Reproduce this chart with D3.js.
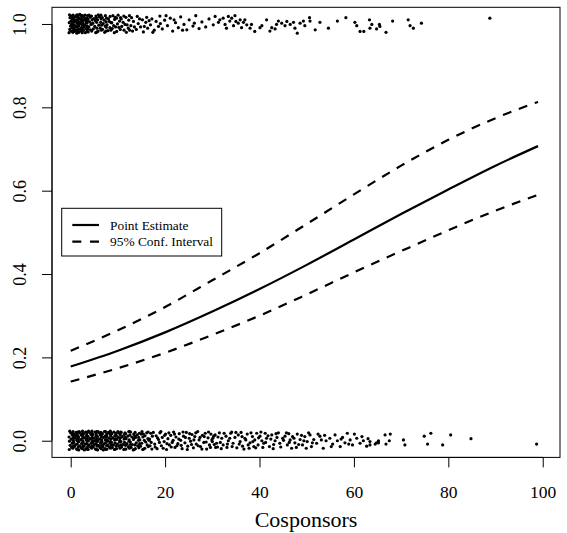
<!DOCTYPE html>
<html lang="en">
<head>
<meta charset="utf-8">
<title>Cosponsors</title>
<script src="https://d3js.org/d3.v7.min.js"></script>
<style>
  body { margin: 0; background: #fff; }
  svg text { font-family: "Liberation Serif", "Times New Roman", serif; fill: #000; }
</style>
</head>
<body>
<div id="stage"></div>
<script>
// predicted probability curves
var curveX   = [0, 10, 20, 30, 40, 50, 60, 70, 80, 90, 99];
var pointEst = [0.178, 0.216, 0.260, 0.310, 0.364, 0.422, 0.483, 0.544, 0.603, 0.660, 0.707];
var upperCI  = [0.216, 0.265, 0.321, 0.385, 0.450, 0.520, 0.591, 0.660, 0.722, 0.774, 0.813];
var lowerCI  = [0.142, 0.174, 0.211, 0.254, 0.300, 0.351, 0.404, 0.455, 0.505, 0.552, 0.590];

var xTicks = [0, 20, 40, 60, 80, 100];
var yTicks = [0, 0.2, 0.4, 0.6, 0.8, 1];
var yTickLabels = ["0.0", "0.2", "0.4", "0.6", "0.8", "1.0"];
var xTitle = "Cosponsors";
var legendLabels = ["Point Estimate", "95% Conf. Interval"];

// jittered observations, outcome = 1
var passedPts = [
  [-0.35,0.979],[0.1,0.983],[-0.2,0.987],[0.3,0.991],[-0.05,0.995],[0.2,0.999],[-0.3,1.003],[0.05,1.007],[0.35,1.011],[-0.15,1.015],[0.15,1.019],[-0.25,1.022],
  [1.3,0.978],[0.8,0.982],[1.15,0.986],[0.7,0.990],[1.05,0.994],[0.75,0.998],[1.35,1.002],[0.9,1.006],[1.2,1.010],[0.65,1.014],[1.0,1.018],[1.25,1.021],
  [1.75,0.980],[2.2,0.984],[1.9,0.988],[2.35,0.992],[1.7,0.996],[2.1,1.000],[1.85,1.004],[2.3,1.008],[2.0,1.012],[1.65,1.016],[2.25,1.020],[1.95,1.023],
  [3.1,0.979],[2.7,0.985],[3.25,0.989],[2.85,0.993],[3.0,0.997],[2.65,1.001],[3.3,1.005],[2.9,1.009],[3.15,1.013],[2.75,1.017],[3.05,1.021],
  [0.45,0.980],[0.6,0.986],[0.4,0.992],[0.55,0.998],[0.5,1.004],[0.6,1.010],[0.4,1.016],[0.5,1.021],
  [1.45,0.981],[1.6,0.987],[1.4,0.993],[1.55,0.999],[1.5,1.005],[1.6,1.011],[1.4,1.017],[1.5,1.022],
  [2.45,0.979],[2.6,0.985],[2.4,0.991],[2.55,0.997],[2.5,1.003],[2.6,1.009],[2.4,1.015],[2.5,1.020],
  [3.45,0.982],[3.6,0.988],[3.4,1.002],[3.55,1.008],[3.45,1.014],[3.6,1.020],
  [3.7,0.981],[4.2,0.986],[3.85,0.993],[4.3,0.999],[4.0,1.005],[3.65,1.011],[4.15,1.016],[3.9,1.021],
  [5.3,0.979],[4.8,0.988],[5.1,0.994],[4.7,1.002],[5.25,1.008],[4.9,1.013],[5.35,1.019],
  [5.8,0.983],[6.25,0.990],[5.95,0.997],[6.35,1.004],[5.7,1.010],[6.1,1.017],[5.85,1.022],
  [7.2,0.980],[6.75,0.987],[7.3,0.995],[6.9,1.001],[7.1,1.009],[6.7,1.015],[7.35,1.020],
  [7.85,0.984],[8.3,0.991],[7.7,0.998],[8.15,1.006],[8.0,1.012],[8.35,1.018],
  [9.25,0.979],[8.8,0.989],[9.1,0.996],[8.7,1.003],[9.3,1.011],[8.95,1.020],
  [9.75,0.982],[10.2,0.992],[9.9,1.000],[10.35,1.007],[9.7,1.014],[10.05,1.021],
  [11.3,0.985],[10.8,0.994],[11.1,1.004],[10.7,1.012],[11.25,1.019],
  [11.8,0.980],[12.2,0.990],[11.95,0.998],[12.3,1.009],[11.7,1.016],
  [13.1,0.983],[12.75,0.996],[13.3,1.006],[12.9,1.015],
  [3.5,0.995],[4.5,1.000],[4.45,0.983],[5.5,1.004],[5.55,0.990],[6.5,0.985],[6.45,1.012],[7.5,1.005],
  [7.55,0.992],[8.5,0.985],[8.55,1.003],[9.5,0.993],[9.45,1.016],[10.5,0.987],[10.55,1.015],[11.5,0.999],
  [12.5,0.985],[12.45,1.020],[13.5,0.993],
  [4.55,1.010],[4.4,1.019],[5.6,0.981],[5.45,1.015],[6.55,0.997],[6.4,1.021],[7.45,0.983],[7.6,1.014],
  [13.9,0.987],[14.3,1.001],[14.1,1.018],[14.8,0.993],[15.2,1.010],[15.4,0.981],[15.9,1.004],[16.3,0.990],
  [16.1,1.016],[16.9,0.998],[17.2,1.012],[17.7,0.985],[18.1,1.006],[18.6,0.994],[18.9,1.019],
  [14.6,1.012],[15.6,0.994],[16.6,1.008],[17.4,0.980],[19.0,1.001],[20.2,1.020],[21.9,1.010],[23.7,0.985],[26.2,1.002],
  [19.4,0.988],[19.9,1.009],[20.5,0.996],[21.1,1.014],[21.6,0.983],[22.2,1.003],[22.8,0.991],[23.3,1.017],
  [24.0,0.999],[24.6,0.986],[25.1,1.010],[25.9,0.995],[26.5,1.020],[27.2,0.989],[27.8,1.005],[28.6,0.993],[29.3,1.012],
  [30.6,1.018],[30.2,0.998],[31.3,1.004],[31.6,1.010],[32.3,1.014],[32.7,0.999],[33.0,0.990],[33.4,1.018],
  [33.7,1.007],[34.1,1.014],[34.5,0.996],[34.8,1.020],[35.0,1.006],[35.5,1.002],[35.9,1.010],[36.2,0.991],
  [36.6,1.004],[36.9,1.010],[37.3,0.998],[38.0,0.990],[38.3,0.999],[39.0,0.982],[40.1,0.991],[40.5,0.996],
  [41.5,1.010],[42.2,0.983],[42.6,0.991],[43.3,0.988],[43.6,0.999],[44.0,1.007],[44.7,1.002],[45.4,0.996],
  [45.8,1.006],[46.5,0.999],[47.2,1.004],[47.5,0.990],[48.0,0.978],[48.6,1.002],[49.3,1.007],[49.6,0.996],
  [50.6,1.015],[50.7,1.007],[51.8,0.986],[52.8,1.004],[54.6,0.990],[56.5,1.007],[58.3,1.015],[60.2,1.004],
  [60.6,0.996],[61.3,0.982],[62.1,0.982],[63.3,1.010],[63.4,0.990],[63.8,0.999],
  [64.8,0.988],[65.4,0.999],[65.5,0.994],[66.8,0.980],[68.2,1.007],[71.5,1.010],[71.9,0.996],[72.6,0.990],
  [74.3,1.002],[88.8,1.014]
];

// jittered observations, outcome = 0
var failedPts = [
  [-0.3,-0.021],[0.2,-0.016],[-0.1,-0.011],[0.35,-0.006],[-0.25,-0.001],[0.1,0.004],[-0.35,0.009],[0.3,0.014],[0,0.019],[-0.2,0.023],
  [1.25,-0.020],[0.8,-0.014],[1.05,-0.009],[0.65,-0.004],[1.3,0.001],[0.95,0.006],[1.35,0.011],[0.7,0.016],[1.15,0.020],[0.9,0.013],
  [1.7,-0.022],[2.2,-0.017],[1.9,-0.012],[2.35,-0.007],[1.75,-0.002],[2.1,0.003],[1.65,0.008],[2.3,0.013],[2.0,0.018],[1.8,0.022],
  [3.25,-0.019],[2.8,-0.013],[3.05,-0.008],[2.65,-0.003],[3.3,0.002],[2.95,0.007],[3.35,0.012],[2.7,0.017],[3.15,0.021],[2.9,-0.022],
  [3.7,-0.021],[4.2,-0.015],[3.9,-0.010],[4.35,-0.005],[3.75,0.000],[4.1,0.005],[3.65,0.010],[4.3,0.015],[4.0,0.020],[3.8,0.023],
  [5.25,-0.020],[4.8,-0.015],[5.05,-0.009],[4.65,-0.004],[5.3,0.001],[4.95,0.006],[5.35,0.011],[4.7,0.016],[5.15,0.021],[4.9,-0.001],
  [5.7,-0.022],[6.2,-0.016],[5.9,-0.011],[6.35,-0.006],[5.75,-0.001],[6.1,0.004],[5.65,0.009],[6.3,0.014],[6.0,0.019],[5.8,0.022],
  [7.25,-0.019],[6.8,-0.014],[7.05,-0.008],[6.65,-0.003],[7.3,0.002],[6.95,0.008],[7.35,0.012],[6.7,0.017],[7.15,0.022],[6.9,-0.022],
  [7.7,-0.020],[8.2,-0.015],[7.9,-0.010],[8.35,-0.005],[7.75,0.001],[8.1,0.006],[7.65,0.011],[8.3,0.016],[8.0,0.020],[7.8,-0.001],
  [9.25,-0.021],[8.8,-0.016],[9.05,-0.010],[8.65,-0.004],[9.3,0.002],[8.95,0.007],[9.35,0.012],[8.7,0.017],[9.15,0.021],
  [9.7,-0.019],[10.2,-0.013],[9.9,-0.008],[10.35,-0.003],[9.75,0.003],[10.1,0.008],[9.65,0.013],[10.3,0.018],[10.0,0.022],
  [11.25,-0.021],[10.8,-0.015],[11.05,-0.009],[10.65,-0.002],[11.3,0.004],[10.95,0.010],[11.35,0.015],[10.7,0.020],
  [11.7,-0.020],[12.2,-0.014],[11.9,-0.007],[12.35,-0.001],[11.75,0.005],[12.1,0.011],[11.65,0.017],[12.3,0.022],
  [13.25,-0.022],[12.8,-0.016],[13.05,-0.009],[12.65,-0.003],[13.3,0.003],[12.95,0.009],[13.35,0.016],[12.7,0.021],
  [13.7,-0.019],[14.2,-0.012],[13.9,-0.005],[14.35,0.001],[13.75,0.008],[14.1,0.014],[13.65,0.020],
  [15.25,-0.021],[14.8,-0.013],[15.05,-0.006],[14.65,0.002],[15.3,0.009],[14.95,0.016],[15.1,0.022],
  [15.7,-0.018],[16.2,-0.010],[15.9,-0.003],[16.35,0.005],[15.75,0.012],[16.1,0.019],
  [17.2,-0.020],[16.8,-0.012],[17.05,-0.004],[16.7,0.004],[17.3,0.011],[16.95,0.018],
  [0.45,-0.018],[0.6,-0.012],[0.4,-0.005],[0.55,0.001],[0.5,0.007],[0.6,0.012],[0.4,0.017],[0.5,0.022],
  [1.45,-0.021],[1.6,-0.015],[1.4,-0.008],[1.55,-0.002],[1.5,0.004],[1.6,0.010],[1.4,0.016],[1.5,0.021],
  [2.45,-0.019],[2.6,-0.013],[2.4,-0.006],[2.55,0.000],[2.5,0.006],[2.6,0.011],[2.4,0.017],[2.5,0.023],
  [3.45,-0.020],[3.6,-0.014],[3.4,-0.007],[3.55,-0.001],[3.5,0.005],[3.6,0.010],[3.4,0.016],[3.5,0.021],
  [4.45,-0.018],[4.6,-0.012],[4.4,-0.006],[4.55,0.001],[4.5,0.008],[4.6,0.013],[4.4,0.018],[4.5,0.023],
  [5.45,-0.021],[5.6,-0.013],[5.4,-0.007],[5.55,-0.001],[5.5,0.005],[5.6,0.011],[5.4,0.016],[5.5,0.022],
  [6.45,-0.019],[6.6,-0.011],[6.4,-0.004],[6.55,0.002],[6.5,0.009],[6.6,0.015],[6.4,0.020],
  [7.45,-0.021],[7.6,-0.012],[7.4,-0.005],[7.55,0.003],[7.5,0.010],[7.6,0.016],[7.4,0.022],
  [8.45,-0.018],[8.6,-0.010],[8.4,-0.002],[8.55,0.004],[8.5,0.011],[8.6,0.018],[8.4,0.023],
  [9.45,-0.020],[9.6,-0.012],[9.4,-0.005],[9.55,0.005],[9.5,0.012],[9.6,0.018],
  [10.45,-0.018],[10.6,-0.010],[10.4,0.001],[10.55,0.007],[10.5,0.014],[10.6,0.021],
  [11.45,-0.020],[11.6,-0.011],[11.4,-0.004],[11.55,0.008],[11.5,0.019],
  [12.45,-0.018],[12.6,-0.009],[12.4,0.002],[12.55,0.014],[12.5,0.022],
  [13.45,-0.021],[13.6,-0.010],[13.4,0.006],[13.55,0.012],
  [14.45,-0.017],[14.6,-0.007],[14.4,0.008],[14.55,0.018],
  [15.45,-0.020],[15.6,0.001],[15.4,0.016],
  [16.45,-0.014],[16.6,0.001],[16.4,0.021],
  [17.8,-0.008],[18.1,0.012],[18.3,-0.019],[18.6,0.003],[18.9,0.019],[19.2,-0.012],[19.4,0.008],[19.8,-0.002],
  [20.1,0.016],[20.3,-0.021],[20.6,0.005],[20.9,-0.010],[21.2,0.013],[21.5,-0.004],[21.8,0.021],[22.1,-0.016],
  [22.3,0.009],[22.7,-0.007],[23.0,0.017],[23.3,0.001],[23.6,-0.019],[23.9,0.011],[24.2,-0.005],[24.5,0.020],
  [24.8,-0.013],[25.1,0.006],[25.4,-0.001],[25.7,0.015],[26.0,-0.017],[26.3,0.010],[26.6,-0.008],[26.9,0.022],
  [27.2,0.002],[27.5,-0.014],[27.9,0.013],[28.2,-0.004],[28.5,0.018],[28.8,-0.020],[29.1,0.007],[29.4,-0.010],
  [29.7,0.016],[30.0,-0.002],[30.3,0.011],[30.7,-0.016],
  [17.5,0.020],[17.9,-0.015],[18.4,0.007],[18.8,-0.004],[19.1,0.022],[19.6,-0.018],[19.9,0.013],[20.4,-0.007],
  [20.8,0.019],[21.3,-0.015],[21.7,0.001],[22.0,0.016],[22.5,-0.012],[22.9,0.004],[23.4,-0.011],[23.8,0.021],
  [24.3,0.008],[24.7,-0.021],[25.2,0.017],[25.6,-0.009],[26.1,0.002],[26.5,0.019],[27.0,-0.012],[27.4,0.008],
  [27.8,-0.020],[28.3,0.010],[28.7,-0.003],[29.2,0.021],[29.6,-0.016],[30.1,0.006],
  [29.9,0.002],[30.6,0.014],[30.9,-0.006],[31.5,0.019],[32.0,0.006],[32.3,-0.010],[32.9,0.011],[33.4,0.000],
  [33.9,0.018],[34.4,-0.006],[34.8,0.008],[35.5,0.014],[35.9,-0.002],[36.4,-0.013],[36.9,0.006],[37.4,0.016],
  [38.0,-0.005],[38.5,0.010],[39.0,0.002],[39.4,0.018],[39.7,-0.010],[40.1,0.011],[40.5,0.000],[40.9,-0.006],
  [41.5,0.006],[42.1,-0.014],[42.6,0.014],[43.3,0.000],[44.0,0.019],[44.3,-0.006],[44.9,0.006],[45.4,0.011],
  [45.9,-0.010],[46.5,0.002],[47.0,0.010],[47.5,-0.005],[48.0,0.016],[48.6,0.003],[49.1,-0.010],[49.6,0.010],
  [50.1,-0.002],[50.7,0.014],[51.0,-0.014],[51.5,0.003],[52.1,-0.006],[52.8,0.011],[53.5,-0.018],[54.1,0.000],
  [54.9,0.006],[55.5,-0.008],[56.0,0.014],[56.5,0.000],[57.1,-0.014],[57.6,0.008],[58.1,-0.005],[58.6,0.018],
  [59.2,0.002],[59.7,-0.010],[60.6,0.006],[61.3,-0.006],[62.0,0.000],[62.7,-0.013],[63.4,-0.002],[64.5,-0.008],
  [65.2,-0.005],
  [31.1,-0.015],[31.9,-0.019],[33.1,-0.016],[34.1,0.021],[35.2,-0.017],[36.1,0.020],[37.8,-0.018],[38.8,-0.014],
  [41.2,0.018],[42.9,-0.019],[43.7,0.008],[46.2,0.017],[47.8,-0.016],[49.9,-0.018],
  [30.4,-0.009],[31.2,0.009],[31.7,-0.004],[32.5,0.018],[33.2,-0.008],[33.7,0.006],[34.2,-0.014],[35.0,0.020],
  [35.7,-0.008],[36.3,0.010],[36.7,-0.020],[37.1,0.002],[37.6,-0.010],[38.2,0.019],[38.6,-0.002],[39.2,-0.017],
  [39.8,0.007],[40.3,0.021],[40.7,-0.016],[41.3,-0.004],[41.8,0.012],[42.4,0.004],[43.0,-0.009],[43.5,0.017],
  [44.5,-0.015],[45.1,0.001],[45.7,0.019],[46.3,-0.004],[46.8,-0.018],[47.3,0.006],[48.3,-0.009],[48.9,0.013],
  [49.4,0.000],[50.4,0.019],[51.2,-0.005],[52.4,0.016],[53.1,0.002],[53.8,0.013],[55.2,-0.014],[57.3,0.004],
  [58.9,-0.008],[60.1,0.016],[61.7,0.010],[63.0,0.005],
  [63.4,-0.010],[64.8,-0.005],[65.2,0.000],[66.6,0.014],[66.8,-0.008],[67.7,0.016],[67.5,0.000],[70.5,0.002],
  [70.8,-0.010],[74.9,0.011],[75.6,-0.008],[76.3,0.018],[78.8,-0.010],[80.5,0.014],[84.8,0.005],[98.7,-0.008]
];

var width = 567, height = 533;
var plotLeft = 52, plotRight = 560, plotTop = 7.3, plotBottom = 457.4;

var x = d3.scaleLinear().domain([-3.96, 103.66]).range([plotLeft, plotRight]);
var y = d3.scaleLinear().domain([-0.04, 1.04]).range([plotBottom, plotTop]);

var svg = d3.select("#stage").append("svg")
  .attr("width", width).attr("height", height);

// observations
svg.append("g").selectAll("circle")
  .data(failedPts.concat(passedPts))
  .join("circle")
  .attr("cx", function (d) { return x(d[0]); })
  .attr("cy", function (d) { return y(d[1]); })
  .attr("r", 1.6)
  .attr("fill", "#000");

// curves
var line = d3.line()
  .x(function (d, i) { return x(curveX[i]); })
  .y(function (d) { return y(d); })
  .curve(d3.curveMonotoneX);

svg.append("path").datum(pointEst).attr("d", line)
  .attr("fill", "none").attr("stroke", "#000").attr("stroke-width", 2.2);
[upperCI, lowerCI].forEach(function (s) {
  svg.append("path").datum(s).attr("d", line)
    .attr("fill", "none").attr("stroke", "#000").attr("stroke-width", 2.2)
    .attr("stroke-dasharray", "9,8");
});

// box
svg.append("rect")
  .attr("x", plotLeft).attr("y", plotTop)
  .attr("width", plotRight - plotLeft).attr("height", plotBottom - plotTop)
  .attr("fill", "none").attr("stroke", "#000").attr("stroke-width", 1);

// x axis
var xAxis = svg.append("g").attr("transform", "translate(0," + plotBottom + ")")
  .call(d3.axisBottom(x).tickValues(xTicks).tickSize(10).tickPadding(1));
xAxis.attr("font-family", null);
xAxis.select(".domain").attr("d", "M" + x(0) + ",0H" + x(100));
xAxis.selectAll("text").attr("font-size", 17.5).attr("dy", null).attr("y", 40.5);

// y axis
var yAxis = svg.append("g").attr("transform", "translate(" + plotLeft + ",0)")
  .call(d3.axisLeft(y).tickValues(yTicks).tickSize(10)
    .tickFormat(function (d, i) { return yTickLabels[i]; }));
yAxis.attr("font-family", null);
yAxis.select(".domain").attr("d", "M0," + y(0) + "V" + y(1));
yAxis.selectAll(".tick text")
  .attr("font-size", 18)
  .attr("x", null).attr("dy", null).attr("y", null)
  .attr("text-anchor", "middle")
  .attr("transform", "translate(-26,0) rotate(-90)");

svg.selectAll(".tick line").attr("stroke", "#000");
svg.selectAll(".domain").attr("stroke", "#000");

svg.append("text")
  .attr("x", (plotLeft + plotRight) / 2).attr("y", 527)
  .attr("text-anchor", "middle").attr("font-size", 22)
  .text(xTitle);

// legend
var lg = svg.append("g");
lg.append("rect").attr("x", 61.7).attr("y", 208.3).attr("width", 160).attr("height", 47.7)
  .attr("fill", "#fff").attr("stroke", "#000").attr("stroke-width", 1);
legendLabels.forEach(function (lab, i) {
  var ly = 225 + i * 16.7;
  lg.append("line").attr("x1", 72.3).attr("x2", 99).attr("y1", ly).attr("y2", ly)
    .attr("stroke", "#000").attr("stroke-width", 2.2)
    .attr("stroke-dasharray", i === 0 ? null : "9,8.7");
  lg.append("text").attr("x", 110).attr("y", ly + 4.5)
    .attr("font-size", 13.4).text(lab);
});
</script>
</body>
</html>
